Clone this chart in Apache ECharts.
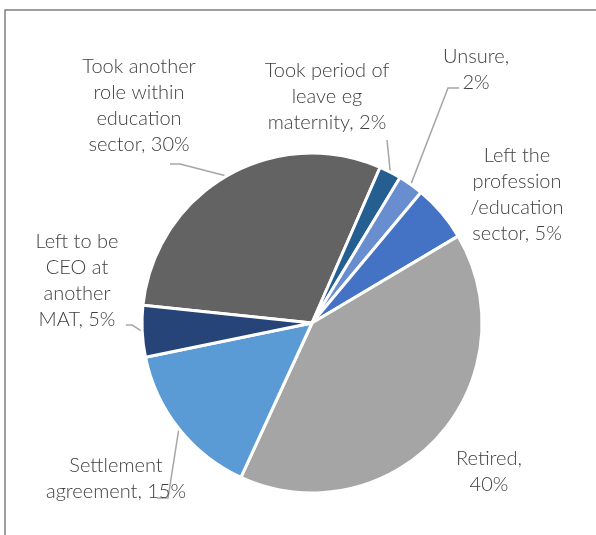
<!DOCTYPE html>
<html>
<head>
<meta charset="utf-8">
<script src="https://cdn.jsdelivr.net/npm/echarts@6/dist/echarts.min.js"></script>
<style>
  html, body { margin: 0; padding: 0; background: #ffffff; }
  #chart { width: 596px; height: 535px; }
</style>
</head>
<body>
<div id="chart"></div>
<script>
// Categories in clockwise order (line breaks as shown in the labels)
const categories = [
  'Took another\nrole within\neducation\nsector',
  'Took period of\nleave eg\nmaternity',
  'Unsure',
  'Left the\nprofession\n/education\nsector',
  'Retired',
  'Settlement\nagreement',
  'Left to be\nCEO at\nanother\nMAT'
];
// Share of respondents (%)
const values = [29.9, 2.1, 2.4, 5.4, 40.4, 14.9, 4.9];
// separator between name and percentage in each label
const separators = [', ', ', ', ',\n', ', ', ',\n', ', ', ', '];

// Styles / layout (kept apart from data)
const colors = ['#636363', '#255E91', '#698ED0', '#4472C4', '#A5A5A5', '#5B9BD5', '#264478'];
const showLeader = [true, true, true, false, false, true, true];
const labelCenters = [[139, 106], [327, 97], [476, 70], [517, 195], [489, 472], [116, 479], [77, 281]];
// leader line elbow / end offsets relative to label centre
const leaderElbow = [[41, 58], [60, 43], [-28, 18], null, null, [52, 19], [55, 44]];
const leaderEnd   = [[31, 58], [60, 43], [-17, 18], null, null, [41, 19], [49, 44]];

const chart = echarts.init(document.getElementById('chart'), null, { renderer: 'canvas' });

const data = categories.map((c, i) => ({
  name: c,
  value: values[i],
  itemStyle: { color: colors[i] },
  labelLine: { show: showLeader[i] }
}));

chart.setOption({
  animation: false,
  backgroundColor: '#ffffff',
  graphic: [{
    type: 'rect',
    shape: { x: 5, y: 10, width: 800, height: 800 },
    style: { fill: 'none', stroke: '#7f7f7f', lineWidth: 1.5 },
    silent: true
  }],
  series: [{
    type: 'pie',
    center: [312, 323],
    radius: 170,
    startAngle: 174,
    clockwise: true,
    avoidLabelOverlap: false,
    data: data,
    itemStyle: { borderColor: '#ffffff', borderWidth: 3 },
    emphasis: { disabled: true },
    label: {
      show: true,
      position: 'outside',
      fontFamily: 'Lato',
      fontWeight: 300,
      fontSize: 20,
      lineHeight: 26,
      color: '#404040',
      align: 'center',
      formatter: function (p) {
        return p.name + separators[p.dataIndex] + Math.round(p.value) + '%';
      }
    },
    labelLine: {
      show: true,
      lineStyle: { color: '#a6a6a6', width: 1.5 }
    },
    labelLayout: function (p) {
      const i = p.dataIndex;
      const c = labelCenters[i];
      const res = { x: c[0], y: c[1], align: 'center', verticalAlign: 'middle' };
      if (showLeader[i] && p.labelLinePoints) {
        const s = p.labelLinePoints[0];
        res.labelLinePoints = [
          [s[0], s[1]],
          [c[0] + leaderElbow[i][0], c[1] + leaderElbow[i][1]],
          [c[0] + leaderEnd[i][0], c[1] + leaderEnd[i][1]]
        ];
      }
      return res;
    }
  }]
});
</script>
</body>
</html>
